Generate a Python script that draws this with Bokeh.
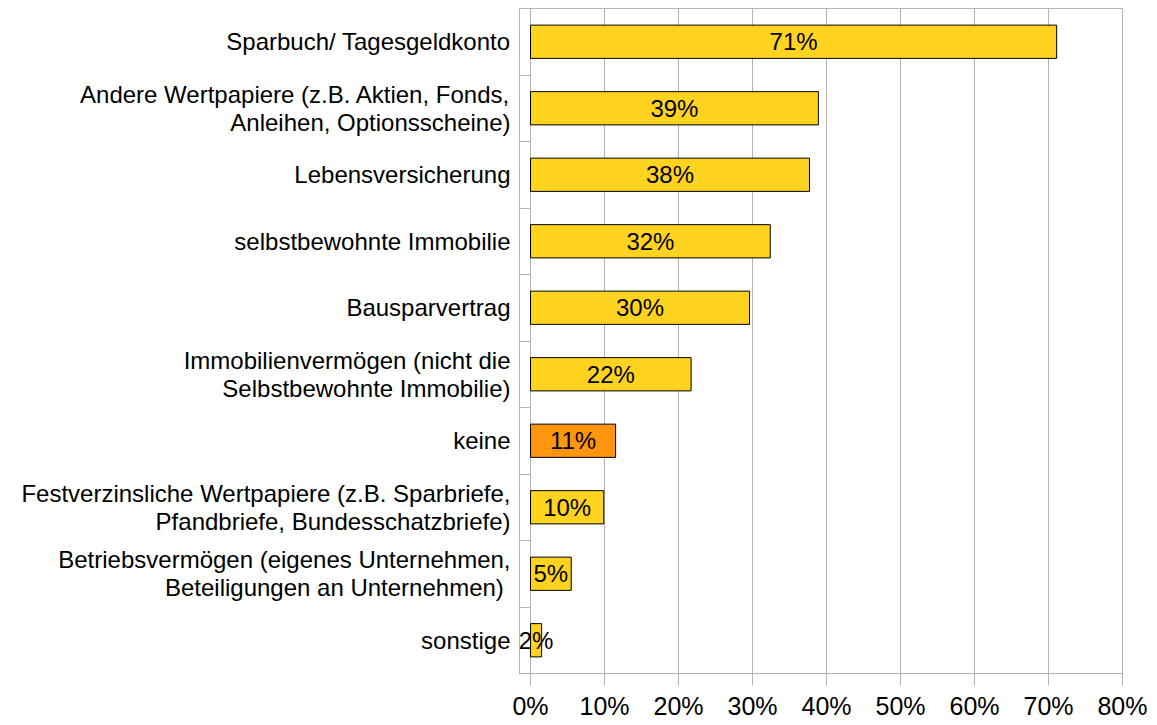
import numpy as np
from bokeh.plotting import figure
from bokeh.models import ColumnDataSource, FixedTicker, LabelSet, Range1d
from bokeh.core.properties import value
from bokeh.embed import file_html
from bokeh.resources import INLINE

categories = [
    "Sparbuch/ Tagesgeldkonto",
    "Andere Wertpapiere (z.B. Aktien, Fonds,\nAnleihen, Optionsscheine)",
    "Lebensversicherung",
    "selbstbewohnte Immobilie",
    "Bausparvertrag",
    "Immobilienvermögen (nicht die\nSelbstbewohnte Immobilie)",
    "keine",
    "Festverzinsliche Wertpapiere (z.B. Sparbriefe,\nPfandbriefe, Bundesschatzbriefe)",
    "Betriebsvermögen (eigenes Unternehmen,\n Beteiligungen an Unternehmen)",
    "sonstige",
]
values = [71.1, 38.9, 37.7, 32.4, 29.6, 21.7, 11.5, 9.9, 5.5, 1.5]
value_labels = ["71%", "39%", "38%", "32%", "30%", "22%", "11%", "10%", "5%", "2%"]
x_ticks = [0, 10, 20, 30, 40, 50, 60, 70, 80]

YELLOW = "#ffd320"
ORANGE = "#ff950e"
GRID = "#b3b3b3"
FONT = "Liberation Sans"

n = len(categories)
ypos = (np.arange(n)[::-1] + 0.5).tolist()
colors = [ORANGE if c == "keine" else YELLOW for c in categories]

src = ColumnDataSource(dict(
    y=ypos, v=values, mid=[v / 2 for v in values], lab=value_labels, color=colors,
))

# small left padding of the value axis so category tick marks sit inside the frame
p = figure(width=1150, height=722, output_backend="svg", toolbar_location=None,
           x_range=Range1d(-1.49, 80), y_range=Range1d(0, n),
           min_border_left=519, min_border_right=28, min_border_top=8,
           min_border_bottom=46)

p.hbar(y="y", right="v", left=0, height=0.5, source=src, fill_color="color",
       line_color="black", line_width=1)

labels = LabelSet(x="mid", y="y", text="lab", source=src, text_align="center",
                  text_baseline="middle", text_font=value(FONT),
                  text_font_size="24px", text_color="black")
p.add_layout(labels)

# x axis
p.xaxis.ticker = FixedTicker(ticks=x_ticks)
p.xaxis.major_label_overrides = {t: f"{t}%" for t in x_ticks}
p.xaxis.axis_line_color = GRID
p.xaxis.major_tick_line_color = GRID
p.xaxis.major_tick_out = 12
p.xaxis.major_tick_in = 0
p.xaxis.minor_tick_line_color = None
p.xaxis.major_label_text_font = FONT
p.xaxis.major_label_text_font_size = "25px"
p.xaxis.major_label_text_color = "black"
p.xaxis.major_label_standoff = 6

# y axis (category boundaries as minor ticks pointing inward to the zero line)
p.yaxis.ticker = FixedTicker(ticks=ypos, minor_ticks=list(range(n + 1)))
p.yaxis.major_label_overrides = {y: c for y, c in zip(ypos, categories)}
p.yaxis.axis_line_color = None
p.yaxis.major_tick_line_color = None
p.yaxis.major_tick_out = 0
p.yaxis.major_tick_in = 0
p.yaxis.minor_tick_line_color = GRID
p.yaxis.minor_tick_out = 0
p.yaxis.minor_tick_in = 11
p.yaxis.major_label_text_font = FONT
p.yaxis.major_label_text_font_size = "24px"
p.yaxis.major_label_text_color = "black"
p.yaxis.major_label_text_line_height = 1.05
p.yaxis.major_label_standoff = 9

p.xgrid.grid_line_color = GRID
p.ygrid.grid_line_color = None
p.outline_line_color = GRID
p.background_fill_color = "white"
p.border_fill_color = "white"

open("out.html", "w").write(file_html(p, INLINE))
